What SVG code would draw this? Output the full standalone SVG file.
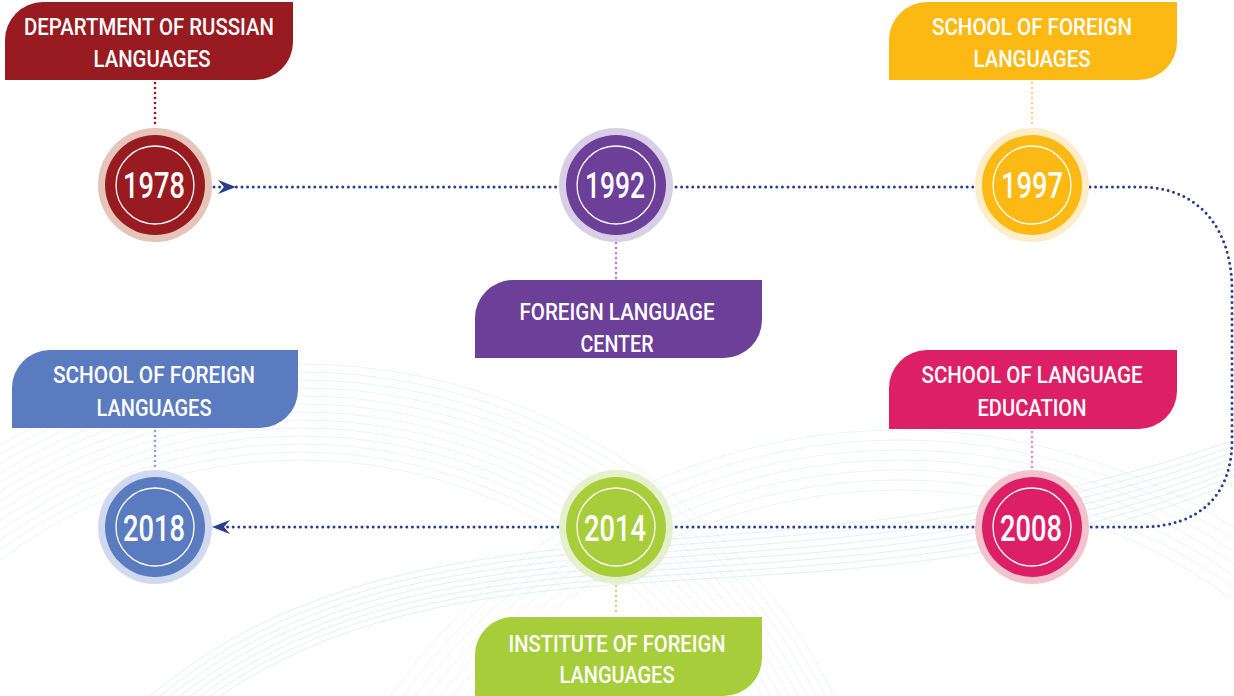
<svg xmlns="http://www.w3.org/2000/svg" width="1234" height="696" viewBox="0 0 1234 696">
<defs>
<style>
.lbl{font-family:Roboto,"Liberation Sans",sans-serif;font-weight:500;font-size:24px;fill:#fff;text-anchor:middle}
.yr{font-family:Roboto,"Liberation Sans",sans-serif;font-weight:500;font-size:37px;fill:#fff;text-anchor:middle}
.ring{fill:none;stroke:#fff;stroke-width:1.3}
.flow{fill:none;stroke:#2A3C8E;stroke-width:3;stroke-dasharray:0 5.6;stroke-linecap:round}
.stem{fill:none;stroke-width:2.7;stroke-dasharray:0 5;stroke-linecap:round}
.wave{fill:none;stroke:#cfe0f4;stroke-width:0.8;opacity:0.45}
.wave2{fill:none;stroke:#b9d2f2;stroke-width:0.8;opacity:0.45}
</style>
<path id="arrow" d="M0,0 L-18,-7 L-12,0 L-18,7 Z" fill="#2A3C8E"/>
</defs>
<rect width="1234" height="696" fill="#fff"/>
<g id="background">
<g class="wave">
<circle cx="300" cy="960" r="500"/>
<circle cx="300" cy="960" r="508"/>
<circle cx="300" cy="960" r="516"/>
<circle cx="300" cy="960" r="524"/>
<circle cx="300" cy="960" r="532"/>
<circle cx="300" cy="960" r="540"/>
<circle cx="300" cy="960" r="548"/>
<circle cx="300" cy="960" r="556"/>
<circle cx="300" cy="960" r="564"/>
<circle cx="300" cy="960" r="572"/>
<circle cx="300" cy="960" r="580"/>
<circle cx="300" cy="960" r="588"/>
<circle cx="300" cy="960" r="596"/>
<circle cx="900" cy="1050" r="560"/>
<circle cx="900" cy="1050" r="570"/>
<circle cx="900" cy="1050" r="580"/>
<circle cx="900" cy="1050" r="590"/>
<circle cx="900" cy="1050" r="600"/>
<circle cx="900" cy="1050" r="610"/>
<circle cx="900" cy="1050" r="620"/>
</g>
<g class="wave2">
<path d="M150,696 C420,470 780,600 1234,440"/>
<path d="M160,696 C430,476 790,606 1234,446"/>
<path d="M170,696 C440,482 800,612 1234,452"/>
<path d="M180,696 C450,488 810,618 1234,458"/>
<path d="M190,696 C460,494 820,624 1234,464"/>
<path d="M200,696 C470,500 830,630 1234,470"/>
<path d="M210,696 C480,506 840,636 1234,476"/>
<path d="M220,696 C490,512 850,642 1234,482"/>
</g>
</g>
<g id="connectors">
<path class="flow" d="M214,187 H558"/>
<path class="flow" d="M676,187 H973"/>
<path class="flow" d="M1090,187 H1140 C1200,187 1232,230 1232,290 V440 C1232,495 1200,527 1140,527 H1090"/>
<path class="flow" d="M973,527 H676"/>
<path class="flow" d="M558,527 H222"/>
<use href="#arrow" transform="translate(236,187)"/>
<use href="#arrow" transform="translate(212,527) rotate(180)"/>
<path class="stem" stroke="#9B1B21" d="M155,83 V127"/>
<path class="stem" stroke="#A58BC9" d="M616,243 V279"/>
<path class="stem" stroke="#F8D58E" d="M1032,83 V127"/>
<path class="stem" stroke="#EA93AD" d="M1032,432 V469"/>
<path class="stem" stroke="#8FA3D8" d="M155,431 V469"/>
<path class="stem" stroke="#C8DE8C" d="M616,586 V615"/>
</g>
<g id="node-1978">
<path d="M5,80 V40 A38,38 0 0 1 43,2 H293 V42 A38,38 0 0 1 255,80 Z" fill="#971B20"/>
<text class="lbl" x="149" y="35" textLength="250" lengthAdjust="spacingAndGlyphs">DEPARTMENT OF RUSSIAN</text>
<text class="lbl" x="152" y="67" textLength="117" lengthAdjust="spacingAndGlyphs">LANGUAGES</text>
<circle cx="155" cy="185" r="57" fill="#E6C5B9"/>
<circle cx="155" cy="185" r="50" fill="#971B20"/>
<circle class="ring" cx="155" cy="185" r="39"/>
<text class="yr" x="154" y="198" textLength="62" lengthAdjust="spacingAndGlyphs">1978</text>
</g>
<g id="node-1992">
<circle cx="616" cy="185" r="57" fill="#D8CEE6"/>
<circle cx="616" cy="185" r="50" fill="#6C3F98"/>
<circle class="ring" cx="616" cy="185" r="39"/>
<text class="yr" x="615" y="198" textLength="60" lengthAdjust="spacingAndGlyphs">1992</text>
<path d="M475,358 V318 A38,38 0 0 1 513,280 H762 V320 A38,38 0 0 1 724,358 Z" fill="#6C3F98"/>
<text class="lbl" x="617" y="320" textLength="195" lengthAdjust="spacingAndGlyphs">FOREIGN LANGUAGE</text>
<text class="lbl" x="617" y="352" textLength="73" lengthAdjust="spacingAndGlyphs">CENTER</text>
</g>
<g id="node-1997">
<path d="M889,80 V40 A38,38 0 0 1 927,2 H1177 V42 A38,38 0 0 1 1139,80 Z" fill="#FDB913"/>
<text class="lbl" x="1032" y="35" textLength="200" lengthAdjust="spacingAndGlyphs">SCHOOL OF FOREIGN</text>
<text class="lbl" x="1032" y="67" textLength="117" lengthAdjust="spacingAndGlyphs">LANGUAGES</text>
<circle cx="1032" cy="185" r="57" fill="#FEEDC9"/>
<circle cx="1032" cy="185" r="50" fill="#FDB913"/>
<circle class="ring" cx="1032" cy="185" r="39"/>
<text class="yr" x="1032" y="198" textLength="62" lengthAdjust="spacingAndGlyphs">1997</text>
</g>
<g id="node-2008">
<path d="M889,429 V388 A38,38 0 0 1 927,350 H1177 V391 A38,38 0 0 1 1139,429 Z" fill="#DD1F66"/>
<text class="lbl" x="1032" y="383" textLength="221" lengthAdjust="spacingAndGlyphs">SCHOOL OF LANGUAGE</text>
<text class="lbl" x="1032" y="416" textLength="109" lengthAdjust="spacingAndGlyphs">EDUCATION</text>
<circle cx="1032" cy="527" r="57" fill="#F2BCC8" opacity="0.9"/>
<circle cx="1032" cy="527" r="50" fill="#DD1F66"/>
<circle class="ring" cx="1032" cy="527" r="39"/>
<text class="yr" x="1031" y="541" textLength="62" lengthAdjust="spacingAndGlyphs">2008</text>
</g>
<g id="node-2014">
<circle cx="616" cy="527" r="57" fill="#E3EEC6" opacity="0.9"/>
<circle cx="616" cy="527" r="50" fill="#A8CD3A"/>
<circle class="ring" cx="616" cy="527" r="39"/>
<text class="yr" x="615" y="541" textLength="62" lengthAdjust="spacingAndGlyphs">2014</text>
<path d="M475,696 V655 A38,38 0 0 1 513,617 H762 V658 A38,38 0 0 1 724,696 Z" fill="#A8CD3A"/>
<text class="lbl" x="617" y="652" textLength="217" lengthAdjust="spacingAndGlyphs">INSTITUTE OF FOREIGN</text>
<text class="lbl" x="617" y="683" textLength="115" lengthAdjust="spacingAndGlyphs">LANGUAGES</text>
</g>
<g id="node-2018">
<path d="M12,428 V388 A38,38 0 0 1 50,350 H298 V390 A38,38 0 0 1 260,428 Z" fill="#5B7BC0"/>
<text class="lbl" x="154" y="383" textLength="202" lengthAdjust="spacingAndGlyphs">SCHOOL OF FOREIGN</text>
<text class="lbl" x="154" y="416" textLength="115" lengthAdjust="spacingAndGlyphs">LANGUAGES</text>
<circle cx="155" cy="527" r="57" fill="#CBD5ED" opacity="0.9"/>
<circle cx="155" cy="527" r="50" fill="#5B7BC0"/>
<circle class="ring" cx="155" cy="527" r="39"/>
<text class="yr" x="154" y="541" textLength="62" lengthAdjust="spacingAndGlyphs">2018</text>
</g>
</svg>
